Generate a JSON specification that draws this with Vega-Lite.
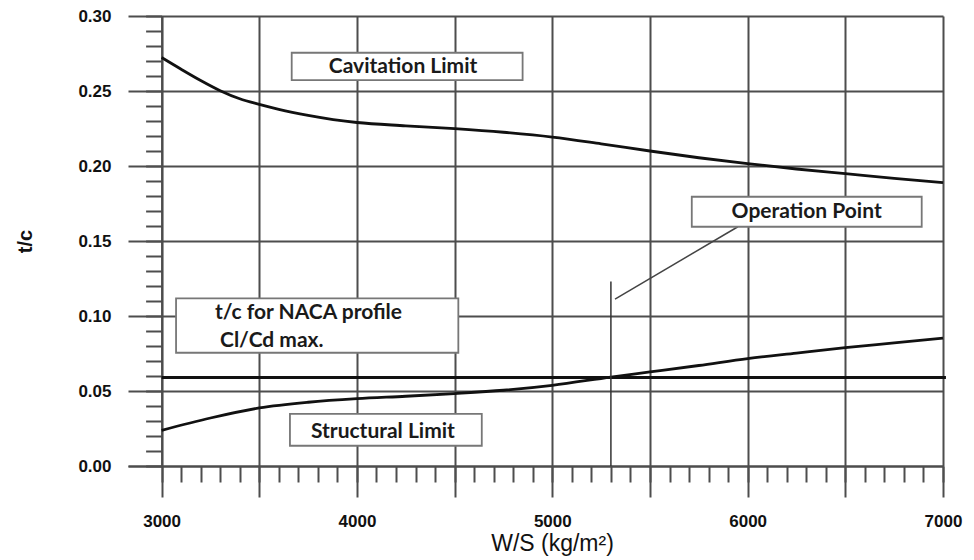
{
  "$schema": "https://vega.github.io/schema/vega-lite/v6.json",
  "width": 815,
  "height": 450,
  "autosize": {"type": "none"},
  "padding": {"left": 128, "top": 16, "right": 31, "bottom": 94},
  "background": "white",
  "config": {"view": {"stroke": null}},
  "datasets": {
    "curves": [
      {"limit": "Cavitation", "ws": 3000, "tc": 0.2723},
      {"limit": "Cavitation", "ws": 3100, "tc": 0.2645},
      {"limit": "Cavitation", "ws": 3200, "tc": 0.2570},
      {"limit": "Cavitation", "ws": 3300, "tc": 0.2502},
      {"limit": "Cavitation", "ws": 3400, "tc": 0.2448},
      {"limit": "Cavitation", "ws": 3500, "tc": 0.2411},
      {"limit": "Cavitation", "ws": 3600, "tc": 0.2378},
      {"limit": "Cavitation", "ws": 3750, "tc": 0.2338},
      {"limit": "Cavitation", "ws": 4000, "tc": 0.2290},
      {"limit": "Cavitation", "ws": 4250, "tc": 0.2268},
      {"limit": "Cavitation", "ws": 4500, "tc": 0.2249},
      {"limit": "Cavitation", "ws": 4750, "tc": 0.2225},
      {"limit": "Cavitation", "ws": 5000, "tc": 0.2193},
      {"limit": "Cavitation", "ws": 5250, "tc": 0.2148},
      {"limit": "Cavitation", "ws": 5500, "tc": 0.2100},
      {"limit": "Cavitation", "ws": 5750, "tc": 0.2055},
      {"limit": "Cavitation", "ws": 6000, "tc": 0.2016},
      {"limit": "Cavitation", "ws": 6250, "tc": 0.1980},
      {"limit": "Cavitation", "ws": 6500, "tc": 0.1949},
      {"limit": "Cavitation", "ws": 6750, "tc": 0.1918},
      {"limit": "Cavitation", "ws": 7000, "tc": 0.1889},
      {"limit": "Structural", "ws": 3000, "tc": 0.0238},
      {"limit": "Structural", "ws": 3250, "tc": 0.0320},
      {"limit": "Structural", "ws": 3500, "tc": 0.0387},
      {"limit": "Structural", "ws": 3750, "tc": 0.0425},
      {"limit": "Structural", "ws": 4000, "tc": 0.0449},
      {"limit": "Structural", "ws": 4250, "tc": 0.0465},
      {"limit": "Structural", "ws": 4500, "tc": 0.0483},
      {"limit": "Structural", "ws": 4750, "tc": 0.0505},
      {"limit": "Structural", "ws": 5000, "tc": 0.0538},
      {"limit": "Structural", "ws": 5300, "tc": 0.0593},
      {"limit": "Structural", "ws": 5500, "tc": 0.0627},
      {"limit": "Structural", "ws": 5750, "tc": 0.0670},
      {"limit": "Structural", "ws": 6000, "tc": 0.0716},
      {"limit": "Structural", "ws": 6250, "tc": 0.0753},
      {"limit": "Structural", "ws": 6500, "tc": 0.0789},
      {"limit": "Structural", "ws": 6750, "tc": 0.0821},
      {"limit": "Structural", "ws": 7000, "tc": 0.0853}
    ],
    "naca": [{"tc": 0.059, "from": 3000, "to": 7015}],
    "op": [{"ws": 5300, "tc0": 0, "tc1": 0.123}],
    "pointer": [{"ws1": 5321, "tc1": 0.1113, "ws2": 5950, "tc2": 0.1595}],
    "boxes": [
      {"name": "Cavitation Limit", "ws1": 3666, "ws2": 4848, "tc1": 0.2573, "tc2": 0.2755},
      {"name": "Operation Point", "ws1": 5714, "ws2": 6891, "tc1": 0.1595, "tc2": 0.1795},
      {"name": "NACA", "ws1": 3074, "ws2": 4519, "tc1": 0.0755, "tc2": 0.1118},
      {"name": "Structural Limit", "ws1": 3657, "ws2": 4639, "tc1": 0.0135, "tc2": 0.0347}
    ],
    "labels": [
      {"text": "Cavitation Limit", "ws": 4236, "tc": 0.2662, "anchor": "center"},
      {"text": "Operation Point", "ws": 6302, "tc": 0.1695, "anchor": "center"},
      {"text": "Structural Limit", "ws": 4133, "tc": 0.0229, "anchor": "center"},
      {"text": "t/c for NACA profile", "ws": 3273, "tc": 0.1018, "anchor": "left"},
      {"text": "Cl/Cd max.", "ws": 3299, "tc": 0.0833, "anchor": "left"}
    ]
  },
  "resolve": {"axis": {"x": "independent", "y": "independent"}},
  "layer": [
    {
      "data": {"name": "curves"},
      "mark": {"type": "line", "interpolate": "monotone", "color": "#111111", "strokeWidth": 2.8},
      "encoding": {
        "x": {
          "field": "ws", "type": "quantitative",
          "scale": {"domain": [2828, 7000], "nice": false, "zero": false},
          "axis": {
            "orient": "bottom",
            "values": [3000, 3500, 4000, 4500, 5000, 5500, 6000, 6500, 7000],
            "grid": true, "gridColor": "#4d4d4d", "gridWidth": 2, "gridOpacity": 1,
            "domain": true, "domainColor": "#4d4d4d", "domainWidth": 2,
            "ticks": true, "tickColor": "#4d4d4d", "tickWidth": 2, "tickSize": 31,
            "labelExpr": "datum.value % 1000 == 0 ? '' + datum.value : ''",
            "labelFont": "Liberation Sans", "labelFontWeight": "bold", "labelFontSize": 17, "labelColor": "#111111",
            "labelPadding": 29, "labelBaseline": "alphabetic",
            "labelOverlap": false, "labelBound": false, "labelFlush": false,
            "title": "W/S (kg/m²)", "titleFont": "Liberation Sans", "titleFontSize": 23, "titleFontWeight": "normal",
            "titleColor": "#111111", "titleX": 424, "titleY": 84, "titleBaseline": "alphabetic", "titleAlign": "center"
          }
        },
        "y": {
          "field": "tc", "type": "quantitative",
          "scale": {"domain": [0, 0.3], "nice": false, "zero": false},
          "axis": {
            "orient": "left",
            "values": [0, 0.05, 0.1, 0.15, 0.2, 0.25, 0.3],
            "grid": true, "gridColor": "#4d4d4d", "gridWidth": 2, "gridOpacity": 1,
            "domain": false, "ticks": false, "tickSize": 0,
            "format": ".2f",
            "labelFont": "Liberation Sans", "labelFontWeight": "bold", "labelFontSize": 17, "labelColor": "#111111",
            "labelPadding": 17,
            "title": "t/c", "titleFont": "Liberation Sans", "titleFontSize": 20, "titleFontWeight": "bold",
            "titleColor": "#111111", "titleX": -103, "titleY": 225, "titleAngle": -90,
            "titleAlign": "center", "titleBaseline": "middle"
          }
        },
        "detail": {"field": "limit"}
      }
    },
    {
      "data": {"name": "naca"},
      "mark": {"type": "rule", "color": "#111111", "strokeWidth": 2.8},
      "encoding": {
        "x": {
          "field": "from", "type": "quantitative",
          "scale": {"domain": [2828, 7000], "nice": false, "zero": false},
          "axis": {
            "orient": "bottom",
            "values": [3000,3100,3200,3300,3400,3500,3600,3700,3800,3900,4000,4100,4200,4300,4400,4500,4600,4700,4800,4900,5000,5100,5200,5300,5400,5500,5600,5700,5800,5900,6000,6100,6200,6300,6400,6500,6600,6700,6800,6900,7000],
            "grid": false, "domain": false, "labels": false, "title": null,
            "ticks": true, "tickColor": "#4d4d4d", "tickWidth": 2, "tickSize": 16
          }
        },
        "x2": {"field": "to"},
        "y": {
          "field": "tc", "type": "quantitative",
          "scale": {"domain": [0, 0.3], "nice": false, "zero": false},
          "axis": {
            "orient": "left", "offset": -33.6,
            "values": [0,0.01,0.02,0.03,0.04,0.05,0.06,0.07,0.08,0.09,0.1,0.11,0.12,0.13,0.14,0.15,0.16,0.17,0.18,0.19,0.2,0.21,0.22,0.23,0.24,0.25,0.26,0.27,0.28,0.29,0.3],
            "grid": false, "labels": false, "title": null,
            "domain": true, "domainColor": "#4d4d4d", "domainWidth": 2,
            "ticks": true, "tickColor": "#4d4d4d", "tickWidth": 2, "tickSize": 16
          }
        }
      }
    },
    {
      "data": {"name": "op"},
      "mark": {"type": "rule", "color": "#333333", "strokeWidth": 1.5},
      "encoding": {
        "x": {"field": "ws", "type": "quantitative", "scale": {"domain": [2828, 7000], "nice": false, "zero": false}, "axis": null},
        "y": {"field": "tc0", "type": "quantitative", "scale": {"domain": [0, 0.3], "nice": false, "zero": false}, "axis": null},
        "y2": {"field": "tc1"}
      }
    },
    {
      "data": {"name": "pointer"},
      "mark": {"type": "rule", "color": "#444444", "strokeWidth": 1.5},
      "encoding": {
        "x": {"field": "ws1", "type": "quantitative", "scale": {"domain": [2828, 7000], "nice": false, "zero": false}, "axis": null},
        "y": {"field": "tc1", "type": "quantitative", "scale": {"domain": [0, 0.3], "nice": false, "zero": false}, "axis": null},
        "x2": {"field": "ws2"},
        "y2": {"field": "tc2"}
      }
    },
    {
      "data": {"name": "boxes"},
      "mark": {"type": "rect", "fill": "white", "stroke": "#777777", "strokeWidth": 1.8},
      "encoding": {
        "x": {"field": "ws1", "type": "quantitative", "scale": {"domain": [2828, 7000], "nice": false, "zero": false}, "axis": null},
        "x2": {"field": "ws2"},
        "y": {"field": "tc1", "type": "quantitative", "scale": {"domain": [0, 0.3], "nice": false, "zero": false}, "axis": null},
        "y2": {"field": "tc2"}
      }
    },
    {
      "data": {"name": "labels"},
      "transform": [{"filter": "datum.anchor == 'center'"}],
      "mark": {"type": "text", "font": "Lato", "fontWeight": "bold", "fontSize": 21, "color": "#1a1a1a", "align": "center", "baseline": "middle"},
      "encoding": {
        "x": {"field": "ws", "type": "quantitative", "scale": {"domain": [2828, 7000], "nice": false, "zero": false}, "axis": null},
        "y": {"field": "tc", "type": "quantitative", "scale": {"domain": [0, 0.3], "nice": false, "zero": false}, "axis": null},
        "text": {"field": "text"}
      }
    },
    {
      "data": {"name": "labels"},
      "transform": [{"filter": "datum.anchor == 'left'"}],
      "mark": {"type": "text", "font": "Lato", "fontWeight": "bold", "fontSize": 21, "color": "#1a1a1a", "align": "left", "baseline": "middle"},
      "encoding": {
        "x": {"field": "ws", "type": "quantitative", "scale": {"domain": [2828, 7000], "nice": false, "zero": false}, "axis": null},
        "y": {"field": "tc", "type": "quantitative", "scale": {"domain": [0, 0.3], "nice": false, "zero": false}, "axis": null},
        "text": {"field": "text"}
      }
    }
  ]
}
